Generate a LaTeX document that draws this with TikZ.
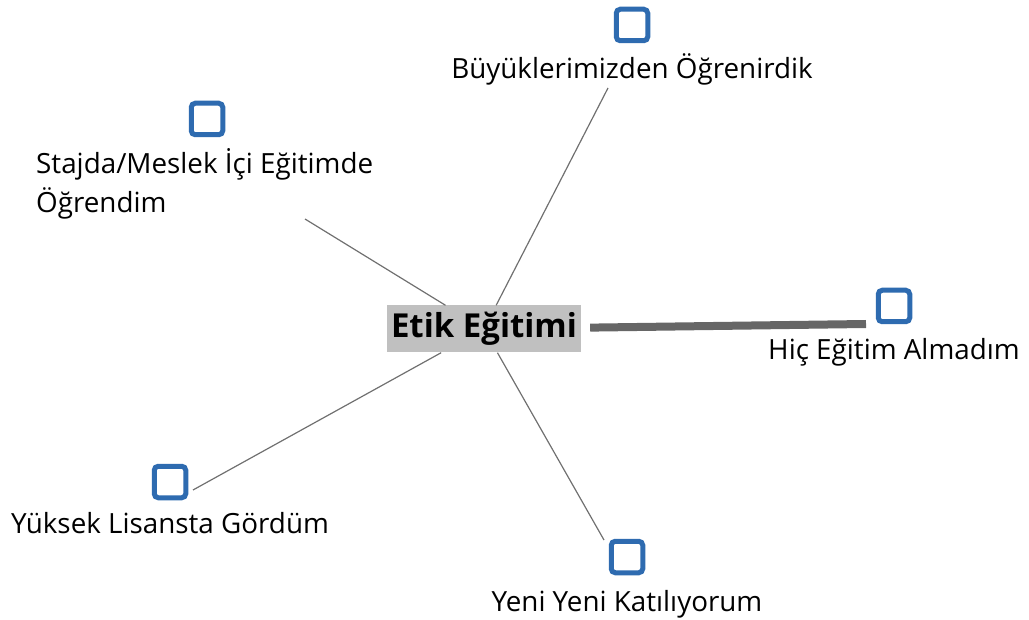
\documentclass[tikz,border=0pt]{standalone}
\usepackage{fontspec}
\setmainfont{Open Sans}
\definecolor{kutumavi}{HTML}{2E6BB0}
\definecolor{cizgigri}{HTML}{707070}
\definecolor{kalingri}{HTML}{666666}
\definecolor{merkezgri}{HTML}{C0C0C0}
\begin{document}
\begin{tikzpicture}[
        x=1pt, y=-1pt,
        cevap/.style={draw=kutumavi, line width=5pt, rounded corners=4pt, minimum size=31.5pt, inner sep=0pt, fill=white},
        etiket/.style={font=\fontsize{27.8}{39}\selectfont, inner sep=0pt, anchor=base},
        ince_kenar/.style={cizgigri, line width=1.2pt},
        kalin_kenar/.style={kalingri, line width=8pt}
    ]
    \useasboundingbox (0,0) rectangle (1029,620);

    % Merkez düğüm
    \node[fill=merkezgri, font=\bfseries\fontsize{33}{36}\selectfont, minimum width=194pt, minimum height=47pt, inner sep=0pt] (etik) at (484, 329) {\raisebox{-2pt}{Etik Eğitimi}};

    % Cevap kutuları (koordinatlarla)
    \node[cevap] (k1) at (632, 25) {};
    \node[cevap] (k2) at (207, 119) {};
    \node[cevap] (k3) at (894, 306) {};
    \node[cevap] (k4) at (170, 482) {};
    \node[cevap] (k5) at (627, 557) {};

    % Etiketler
    \node[etiket] (t1) at (632, 79) {Büyüklerimizden Öğrenirdik};
    \node[etiket, align=left, anchor=north west] (t2) at (36, 148) {Stajda/Meslek İçi Eğitimde\\Öğrendim};
    \node[etiket] (t3) at (894, 360) {Hiç Eğitim Almadım};
    \node[etiket] (t4) at (170, 533) {Yüksek Lisansta Gördüm};
    \node[etiket] (t5) at (627, 611) {Yeni Yeni Katılıyorum};

    % Kenarların serbest uçları
    \coordinate (u1) at (608, 88);
    \coordinate (u2) at (305, 219);
    \coordinate (u3) at (866, 324);
    \coordinate (u4) at (193, 490);
    \coordinate (u5) at (604, 540);

    % İnce kenarlar
    \draw[ince_kenar] (etik) -- (u1);
    \draw[ince_kenar] (etik) -- (u2);
    \draw[ince_kenar] (etik) -- (u4);
    \draw[ince_kenar] (etik) -- (u5);

    % Kalın kenar (en çok seçilen)
    \draw[kalin_kenar, shorten <=9pt] (etik) -- (u3);

\end{tikzpicture}
\end{document}
